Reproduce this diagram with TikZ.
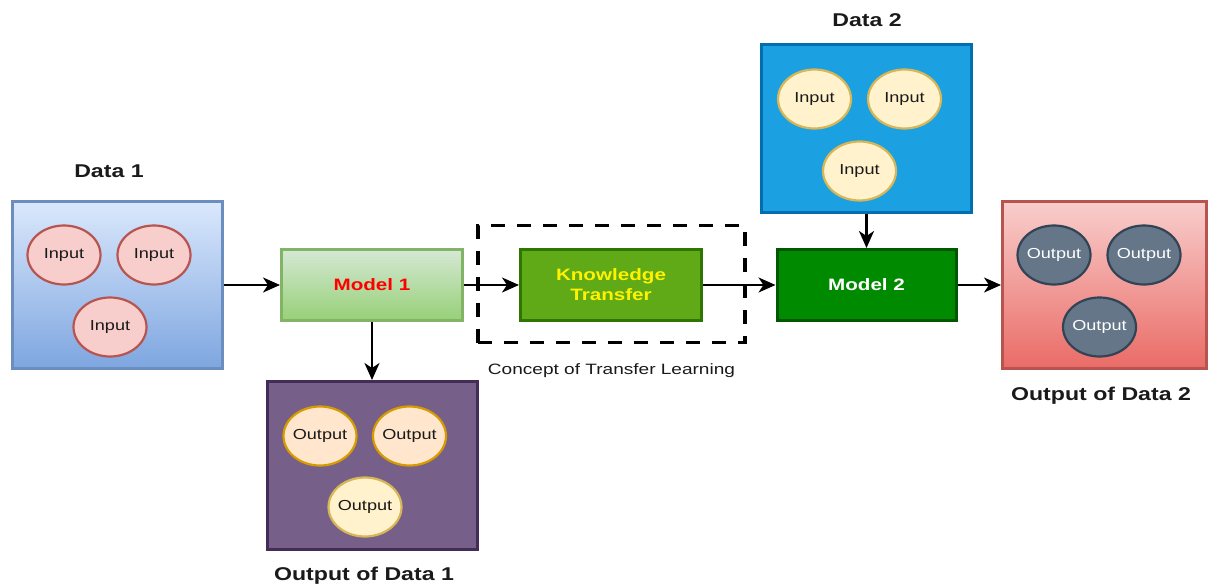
\documentclass[tikz,border=0pt]{standalone}
\usepackage{graphicx}
\usepackage{fontspec}
\setmainfont{Liberation Sans}
\usetikzlibrary{arrows.meta,shapes.geometric}

% palette
\definecolor{inkgray}{HTML}{1A1A1A}
\definecolor{blueTop}{HTML}{DAE8FC}
\definecolor{blueBot}{HTML}{7EA6E0}
\definecolor{blueLine}{HTML}{6C8EBF}
\definecolor{greenTop}{HTML}{D5E8D4}
\definecolor{greenBot}{HTML}{97D077}
\definecolor{greenLine}{HTML}{82B366}
\definecolor{ktFill}{HTML}{60A917}
\definecolor{ktLine}{HTML}{2D7600}
\definecolor{mtwoFill}{HTML}{008A00}
\definecolor{mtwoLine}{HTML}{005700}
\definecolor{skyFill}{HTML}{1BA1E2}
\definecolor{skyLine}{HTML}{006EAF}
\definecolor{purpleFill}{HTML}{76608A}
\definecolor{purpleLine}{HTML}{432D57}
\definecolor{redTop}{HTML}{F8CECC}
\definecolor{redBot}{HTML}{EA6B66}
\definecolor{redLine}{HTML}{B85450}
\definecolor{pinkFill}{HTML}{F8CECC}
\definecolor{orangeFill}{HTML}{FFE6CC}
\definecolor{orangeLine}{HTML}{D79B00}
\definecolor{creamFill}{HTML}{FFF2CC}
\definecolor{creamLine}{HTML}{D6B656}
\definecolor{slateFill}{HTML}{647687}
\definecolor{slateLine}{HTML}{314354}

% wide lettering
\newcommand{\wideText}[2][1.25]{\scalebox{#1}[1]{#2}}

\begin{document}
\begin{tikzpicture}[x=1pt,y=-1pt,
  panel/.style={rectangle, draw, line width=3pt, inner sep=0pt},
  blob/.style={ellipse, draw, line width=2.2pt, minimum width=73pt,
    minimum height=59pt, inner sep=-8pt, text=inkgray,
    font=\fontsize{14.5}{17}\selectfont},
  caption/.style={anchor=base, text=inkgray,
    font=\fontsize{18.5}{22}\selectfont\bfseries},
  modelbox/.style={panel, minimum width=181pt, minimum height=71pt,
    font=\fontsize{16.5}{20}\selectfont\bfseries},
  arr/.style={line width=2.4pt, draw=black,
    -{Stealth[length=17pt,width=15pt,inset=5pt]}},
]
\fill[white] (0,0) rectangle (1208,586);
\useasboundingbox (0,0) rectangle (1208,586);

% Data 1
\node[panel, draw=blueLine, top color=blueTop, bottom color=blueBot,
  minimum width=210pt, minimum height=167pt] (d1) at (117.5,285) {};
\node[blob, draw=redLine, fill=pinkFill] (d1a) at (64,255) {\wideText{Input}};
\node[blob, draw=redLine, fill=pinkFill] (d1b) at (154,255) {\wideText{Input}};
\node[blob, draw=redLine, fill=pinkFill] (d1c) at (110,327) {\wideText{Input}};
\node[caption] (d1lbl) at (109,177) {\wideText{Data 1}};

% Model 1
\node[modelbox, draw=greenLine, top color=greenTop, bottom color=greenBot,
  text=red] (m1) at (372,285) {\wideText{Model 1}};

% Output of Data 1
\node[panel, draw=purpleLine, fill=purpleFill,
  minimum width=210pt, minimum height=168pt] (o1) at (372,465.5) {};
\node[blob, draw=orangeLine, fill=orangeFill] (o1a) at (320,436) {\wideText{Output}};
\node[blob, draw=orangeLine, fill=orangeFill] (o1b) at (409.5,436) {\wideText{Output}};
\node[blob, draw=creamLine, fill=creamFill] (o1c) at (365,507) {\wideText{Output}};
\node[caption] (o1lbl) at (364,580) {\wideText{Output of Data 1}};

% Transfer learning frame
\node[rectangle, draw=black, line width=3.5pt, dash pattern=on 14pt off 12pt,
  minimum width=267pt, minimum height=117pt, inner sep=0pt] (frame) at (611.5,284) {};
\node[anchor=base, text=inkgray, font=\fontsize{15}{18}\selectfont] (framelbl)
  at (611.5,374) {\wideText[1.27]{Concept of Transfer Learning}};

% Knowledge transfer
\node[modelbox, draw=ktLine, fill=ktFill, text=yellow, align=center]
  (kt) at (611,285) {\wideText{Knowledge}\\\wideText{Transfer}};

% Data 2
\node[panel, draw=skyLine, fill=skyFill,
  minimum width=210pt, minimum height=168pt] (d2) at (866.5,128.5) {};
\node[blob, draw=creamLine, fill=creamFill] (d2a) at (814.5,99) {\wideText{Input}};
\node[blob, draw=creamLine, fill=creamFill] (d2b) at (904.5,99) {\wideText{Input}};
\node[blob, draw=creamLine, fill=creamFill] (d2c) at (859.5,171) {\wideText{Input}};
\node[caption] (d2lbl) at (867,27) {\wideText{Data 2}};

% Model 2
\node[modelbox, draw=mtwoLine, fill=mtwoFill, text=white,
  minimum width=179pt] (m2) at (866.5,285) {\wideText{Model 2}};

% Output of Data 2
\node[panel, draw=redLine, top color=redTop, bottom color=redBot,
  minimum width=204pt, minimum height=167pt] (o2) at (1104.5,285) {};
\node[blob, draw=slateLine, fill=slateFill, text=white] (o2a) at (1054,255) {\wideText{Output}};
\node[blob, draw=slateLine, fill=slateFill, text=white] (o2b) at (1144,255) {\wideText{Output}};
\node[blob, draw=slateLine, fill=slateFill, text=white] (o2c) at (1099.5,327) {\wideText{Output}};
\node[caption] (o2lbl) at (1101,400) {\wideText{Output of Data 2}};

% connectors
\draw[arr] (d1) -- (m1);
\draw[arr] (m1) -- (kt);
\draw[arr] (kt) -- (m2);
\draw[arr] (m2) -- (o2);
\draw[arr] (m1.south) -- (o1.north);
\draw[arr] (d2.south) -- (m2.north);
\end{tikzpicture}
\end{document}
